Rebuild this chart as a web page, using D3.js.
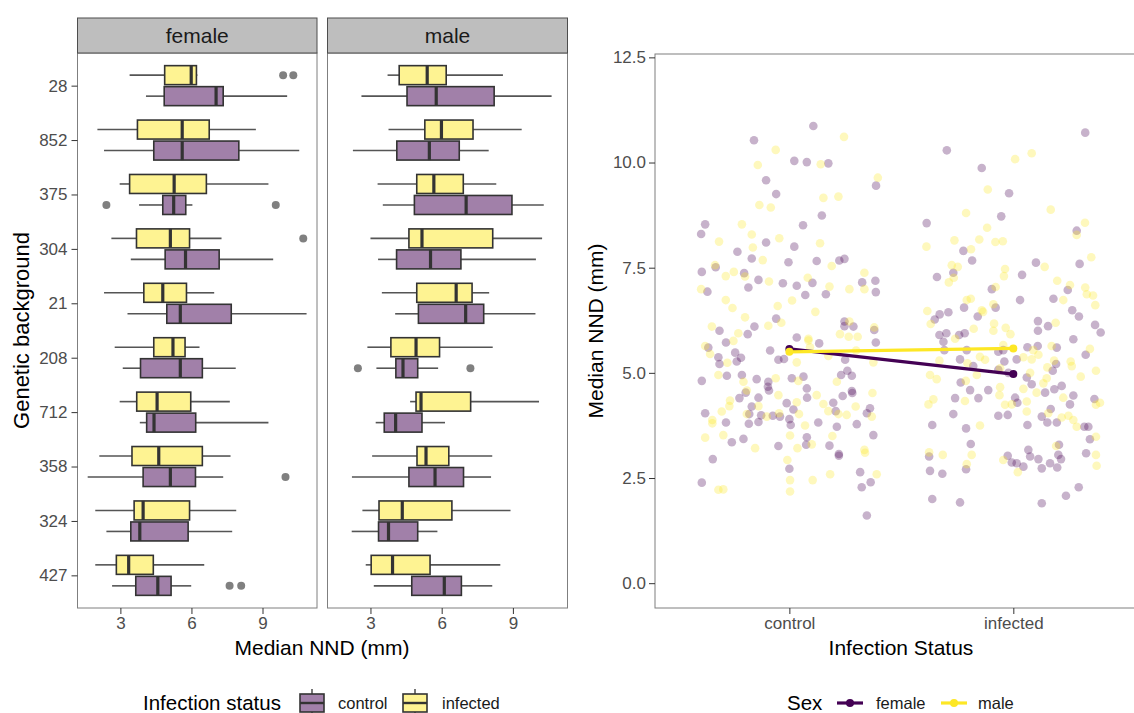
<!DOCTYPE html>
<html>
<head>
<meta charset="utf-8">
<script src="https://cdn.jsdelivr.net/npm/d3@7"></script>
<style>
  body { margin: 0; background: #fff; }
  svg { display: block; }
  text { font-family: "Liberation Sans", Arial, sans-serif; }
</style>
</head>
<body>
<div id="chart"></div>
<script>
const genotypes = ["28", "852", "375", "304", "21", "208", "712", "358", "324", "427"];
const sexes = ["female", "male"];
const statuses = ["control", "infected"];

// [lower whisker, Q1, median, Q3, upper whisker], one row per genotype
const femaleControl = [
  [4.08, 4.85, 7.04, 7.34, 10.04], [2.31, 4.41, 5.61, 8.00, 10.55], [3.79, 4.79, 5.25, 5.76, 6.04],
  [3.44, 4.89, 5.75, 7.17, 9.45], [3.30, 4.96, 5.53, 7.68, 10.86], [3.10, 3.85, 5.53, 6.46, 7.87],
  [3.82, 4.11, 4.42, 6.18, 9.25], [1.62, 3.96, 5.11, 6.17, 7.34], [2.41, 3.44, 3.82, 5.86, 7.72],
  [2.65, 3.65, 4.58, 5.14, 5.99]
];
const femaleInfected = [
  [3.39, 4.87, 5.99, 6.21, 6.25], [2.03, 3.72, 5.61, 6.75, 8.72], [2.97, 3.39, 5.27, 6.63, 9.25],
  [2.62, 3.68, 5.11, 5.92, 7.27], [2.31, 3.99, 4.79, 5.79, 6.96], [2.76, 4.41, 5.22, 5.73, 6.34],
  [2.97, 3.69, 4.55, 5.97, 7.62], [2.11, 3.49, 4.62, 6.46, 7.65], [1.94, 3.58, 3.96, 5.92, 7.89],
  [1.94, 2.83, 3.35, 4.39, 6.54]
];
const maleControl = [
  [2.62, 4.54, 5.77, 8.21, 10.63], [2.26, 4.11, 5.48, 6.74, 7.98], [3.52, 4.85, 7.03, 8.96, 10.30],
  [3.32, 4.10, 5.53, 6.81, 9.97], [4.04, 5.02, 7.01, 7.77, 9.95], [3.25, 4.07, 4.37, 4.99, 5.85],
  [3.22, 3.58, 4.06, 5.17, 6.14], [2.22, 4.62, 5.72, 6.92, 8.08], [2.21, 3.34, 3.76, 4.99, 5.82],
  [3.14, 4.74, 6.11, 6.83, 8.13]
];
const maleInfected = [
  [3.72, 4.21, 5.39, 6.19, 8.58], [3.76, 5.29, 5.99, 7.32, 9.37], [3.30, 4.95, 5.67, 6.91, 8.30],
  [3.00, 4.62, 5.17, 8.15, 10.23], [3.48, 4.95, 6.61, 7.28, 8.00], [2.87, 3.86, 4.92, 5.91, 8.15],
  [4.67, 4.92, 5.13, 7.22, 10.10], [3.07, 4.96, 5.34, 6.30, 8.13], [2.66, 3.36, 4.34, 6.43, 8.90],
  [2.80, 3.03, 3.93, 5.51, 8.47]
];
// [sex, status, genotype, value]
const outliers = [
  ["female", "infected", "28", 9.87], ["female", "infected", "28", 10.30],
  ["female", "control", "375", 2.41], ["female", "control", "375", 9.56],
  ["female", "infected", "304", 10.72], ["female", "control", "358", 9.97],
  ["female", "control", "427", 7.61], ["female", "control", "427", 8.10],
  ["male", "control", "208", 2.47], ["male", "control", "208", 7.21]
];

// right panel: jittered points [x position (1 = control, 2 = infected), median NND]
const femalePoints = [
  [1.107,10.87],[0.842,10.53],[1.022,10.04],[1.078,10.01],[1.174,9.98],[1.387,9.45],[0.896,9.58],[0.941,9.25],
  [1.145,8.74],[0.606,8.30],[0.624,8.53],[1.061,8.51],[0.896,8.10],[1.022,8.00],[0.768,7.88],[0.832,7.72],
  [0.996,7.63],[1.122,7.66],[1.223,7.67],[1.246,7.71],[0.671,7.51],[0.609,7.40],[0.798,7.37],[0.862,7.21],
  [0.971,7.13],[1.033,7.07],[1.103,7.14],[0.817,7.03],[1.325,7.15],[1.384,7.19],[1.386,6.92],[0.634,6.93],
  [1.071,6.85],[1.163,6.87],[0.941,6.29],[0.844,6.10],[0.688,6.00],[0.814,5.92],[1.246,6.22],[1.246,6.11],
  [1.286,6.10],[1.379,6.02],[1.033,5.84],
  [2.321,10.71],[1.703,10.29],[1.859,9.87],[1.981,9.27],[1.946,8.72],[1.613,8.56],[2.283,8.38],[1.777,7.90],
  [1.816,7.67],[2.101,7.62],[2.296,7.59],[1.732,7.38],[2.039,7.33],[1.659,7.28],[2.243,6.97],[1.904,6.99],
  [2.179,6.76],[2.030,6.73],[1.921,6.55],[1.780,6.55],[1.841,6.34],[1.649,6.27],[1.671,6.39],[1.710,6.44],
  [2.263,6.49],[2.293,6.34],[2.110,6.23],[2.155,6.11],[2.110,6.00],[2.365,6.14],[2.390,5.96],[1.670,5.90],
  [1.701,5.94],[1.758,5.90],[1.783,5.94],
  [0.638,5.60],[0.717,5.72],[0.758,5.48],[0.784,5.36],[0.683,5.37],[0.688,5.21],[0.765,5.27],[0.914,5.53],
  [0.951,5.31],[0.976,5.33],[1.133,5.70],[1.249,5.31],[1.386,5.72],[0.609,4.81],[0.721,4.93],[0.788,4.95],
  [0.854,4.85],[0.906,4.79],[0.904,4.67],[0.909,4.58],[1.011,4.87],[1.063,4.91],[1.078,4.63],[1.079,4.41],
  [1.231,4.95],[1.259,5.05],[1.279,4.93],[1.279,4.57],[1.281,4.52],[1.238,4.45],[0.805,4.53],[0.777,4.40],
  [0.862,4.41],[0.624,4.04],[0.717,3.82],[0.832,4.20],[0.821,4.02],[0.874,3.99],[0.819,3.79],[0.926,3.98],
  [0.958,3.96],[0.862,3.83],[0.988,4.28],[1.018,4.13],[1.000,3.90],[1.006,3.76],[1.129,3.82],[1.196,4.29],
  [1.207,4.09],[1.212,3.72],[1.301,3.78],[1.346,4.04],[1.360,4.16],
  [1.688,5.74],[1.692,5.54],[1.792,5.54],[1.933,5.50],[1.955,5.54],[2.063,5.61],[2.109,5.64],[2.194,5.60],
  [2.323,5.43],[2.015,5.32],[1.960,5.27],[1.762,5.32],[1.821,5.16],[1.933,5.07],[1.978,5.00],[1.765,4.77],
  [2.060,4.89],[2.082,4.73],[2.191,5.21],[2.176,5.05],[2.268,5.80],[2.216,4.69],[2.183,4.61],[1.807,4.59],
  [1.888,4.59],[2.142,4.53],[2.268,4.46],[1.740,4.40],[1.844,4.40],[2.008,4.41],[2.018,4.29],[2.167,4.14],
  [2.253,4.25],[2.362,4.38],[1.732,4.02],[1.933,3.98],[1.975,4.00],[2.127,3.96],[2.194,3.82],[2.152,3.82],
  [2.317,3.72],[2.335,3.72],[1.638,3.76],[1.789,3.68],[2.063,3.76],
  [0.743,3.35],[0.795,3.43],[0.951,3.26],[1.078,3.47],[1.075,3.29],[1.179,3.27],[1.221,3.07],[1.221,3.03],
  [0.658,2.95],[1.000,2.72],[1.316,2.64],[1.323,2.28],[1.363,2.40],[1.346,1.61],[0.609,2.39],
  [1.375,3.52],[1.624,3.01],[1.628,2.67],[1.683,2.60],[1.638,2.00],[1.762,1.92],[1.789,2.71],[1.810,3.31],
  [1.975,3.03],[1.993,2.87],[2.015,2.85],[2.045,2.77],[2.075,3.01],[2.067,3.17],[2.112,2.95],[2.127,2.73],
  [2.164,2.85],[2.196,2.75],[2.201,3.05],[2.213,2.95],[2.204,3.29],[2.127,1.90],[2.235,2.08],[2.292,2.28],
  [2.325,3.09],[2.342,3.42]
];
const malePoints = [
  [0.939,10.30],[1.244,10.61],[0.859,9.94],[1.140,9.96],[1.395,9.64],[1.152,9.16],[1.219,9.19],[0.866,8.99],
  [0.917,8.93],[0.788,8.53],[0.832,8.29],[0.686,8.12],[0.955,8.20],[0.837,7.98],[1.137,8.08],[0.881,7.68],
  [0.668,7.56],[0.716,7.30],[0.752,7.40],[0.802,7.29],[1.189,7.54],[1.335,7.38],[1.082,7.26],[0.909,7.17],
  [1.179,7.05],[1.268,6.99],[1.335,6.99],[0.606,6.99],[0.716,6.73],[0.746,6.54],[1.012,6.72],[0.948,6.59],
  [1.116,6.45],[0.802,6.32],[0.964,6.19],[0.906,6.12],[0.654,6.10],[0.772,5.94],[1.268,6.22],[1.226,5.92],
  [1.265,5.86],[1.305,5.86],[1.379,6.08],[1.085,5.81],
  [2.082,10.22],[2.008,10.08],[1.886,9.36],[2.167,8.88],[1.789,8.80],[2.320,8.57],[1.883,8.45],[2.283,8.28],
  [1.737,8.15],[1.848,8.17],[1.920,8.11],[1.953,8.13],[1.612,8.00],[1.811,7.94],[2.140,7.52],[2.348,7.75],
  [1.725,7.56],[1.752,7.52],[1.963,7.47],[1.958,7.30],[1.734,7.26],[1.712,7.15],[2.196,7.19],[2.253,7.09],
  [2.321,7.03],[2.328,6.87],[2.356,6.84],[1.921,7.04],[2.223,6.73],[2.366,6.61],[1.792,6.73],[1.810,6.76],
  [1.911,6.63],[1.859,6.49],[1.865,6.45],[1.616,6.47],[1.631,6.16],[2.189,6.19],[1.914,6.17],[1.966,6.07],
  [1.987,5.92],[1.911,6.00],[1.823,6.05],
  [0.624,5.64],[0.750,5.76],[0.646,5.45],[0.723,5.24],[1.033,5.25],[1.085,5.77],[1.092,5.61],[1.174,5.40],
  [1.298,5.53],[1.375,5.25],[0.683,4.95],[0.795,4.79],[0.939,4.87],[1.040,4.81],[1.122,4.47],[1.212,4.79],
  [1.371,4.52],[0.810,4.58],[0.735,4.34],[0.732,4.21],[0.698,4.08],[0.656,3.88],[0.656,3.80],[0.810,4.02],
  [0.862,4.21],[0.899,3.96],[0.954,4.04],[0.951,4.47],[1.033,4.30],[1.043,4.02],[1.070,3.75],[1.152,4.26],
  [1.174,4.09],[1.219,4.02],[1.256,4.00],[1.296,4.20],[1.368,3.96],
  [1.740,5.81],[1.955,5.66],[2.089,5.54],[2.171,5.64],[2.342,5.57],[2.045,5.37],[2.082,5.32],[2.112,5.43],
  [1.851,5.38],[1.874,5.31],[1.670,5.29],[1.795,5.23],[1.941,5.11],[1.628,4.95],[1.658,4.85],[1.837,4.95],
  [1.788,4.81],[2.075,5.00],[2.152,5.13],[2.182,5.29],[2.149,4.87],[2.134,4.75],[2.261,5.16],[2.256,5.27],
  [2.301,4.91],[2.369,5.05],[2.045,4.62],[1.941,4.66],[1.938,4.47],[2.104,4.53],[2.223,4.41],[1.784,4.33],
  [1.643,4.37],[1.621,4.25],[1.963,4.24],[1.993,4.25],[2.060,4.32],[2.060,4.08],[2.387,4.29],[2.369,4.24],
  [2.156,4.04],[2.216,3.94],[2.246,3.98],[2.268,3.88],[1.851,3.75],[2.283,3.72],
  [0.705,3.52],[0.624,3.46],[0.847,3.21],[1.100,3.30],[1.192,3.50],[1.036,3.21],[1.003,3.51],[0.991,2.93],
  [1.003,2.45],[1.003,2.18],[1.104,2.45],[1.182,2.59],[0.683,2.22],[0.705,2.23],[1.335,3.17],[1.338,3.10],
  [1.390,2.59],
  [1.624,3.11],[1.685,3.05],[1.792,2.83],[1.814,3.05],[1.955,2.93],[2.020,2.64],[2.191,3.26],[2.369,3.05],
  [2.372,2.79],[2.369,3.48]
];
// group means per infection status (control, infected)
const femaleMeans = [5.57, 4.97];
const maleMeans = [5.50, 5.58];

const xTicksLeft = [3, 6, 9];
const yTicksRight = [0, 2.5, 5, 7.5, 10, 12.5];

const W = 1134, H = 713;
const purple = "#440154", yellow = "#FDE725";
const tickCol = "#4d4d4d";

const svg = d3.select("#chart").append("svg")
  .attr("width", W).attr("height", H);

// ---------- left: boxplots faceted by sex ----------
const panelTop = 53, panelBottom = 608, stripTop = 18;
const y = d3.scalePoint().domain(genotypes).range([panelTop, panelBottom]).padding(0.6);
const boxH = 19, dodge = 10.5;

const stats = {
  female: { control: femaleControl, infected: femaleInfected },
  male: { control: maleControl, infected: maleInfected }
};
const panels = { female: [77.5, 317], male: [327.5, 567.5] };

function styleAxis(g) {
  g.select(".domain").remove();
  g.selectAll(".tick line").attr("stroke", "#333").attr("stroke-width", 1);
  g.selectAll(".tick text").attr("fill", tickCol).attr("font-size", 17)
    .attr("font-family", '"Liberation Sans", Arial, sans-serif');
}

sexes.forEach(sex => {
  const [x0, x1] = panels[sex];
  const x = d3.scaleLinear().domain([1.19, 11.3]).range([x0, x1]);
  const g = svg.append("g");

  g.append("rect").attr("x", x0).attr("y", panelTop).attr("width", x1 - x0)
    .attr("height", panelBottom - panelTop).attr("fill", "#fff");

  statuses.slice().reverse().forEach(status => {
    const off = status === "infected" ? -dodge : dodge;
    const fill = status === "infected" ? yellow : purple;
    stats[sex][status].forEach((s, i) => {
      const cy = y(genotypes[i]) + off;
      const [lo, q1, med, q3, hi] = s;
      g.append("line").attr("x1", x(lo)).attr("x2", x(q1)).attr("y1", cy).attr("y2", cy)
        .attr("stroke", "#555").attr("stroke-width", 1.6);
      g.append("line").attr("x1", x(q3)).attr("x2", x(hi)).attr("y1", cy).attr("y2", cy)
        .attr("stroke", "#555").attr("stroke-width", 1.6);
      g.append("rect").attr("x", x(q1)).attr("y", cy - boxH / 2)
        .attr("width", x(q3) - x(q1)).attr("height", boxH)
        .attr("fill", "#fff");
      g.append("rect").attr("x", x(q1)).attr("y", cy - boxH / 2)
        .attr("width", x(q3) - x(q1)).attr("height", boxH)
        .attr("fill", fill).attr("fill-opacity", 0.5)
        .attr("stroke", "#333").attr("stroke-width", 1.6);
      g.append("line").attr("x1", x(med)).attr("x2", x(med))
        .attr("y1", cy - boxH / 2).attr("y2", cy + boxH / 2)
        .attr("stroke", "#333").attr("stroke-width", 3.2);
    });
  });

  g.selectAll("circle.out")
    .data(outliers.filter(o => o[0] === sex))
    .join("circle")
    .attr("cx", d => x(d[3]))
    .attr("cy", d => y(d[2]) + (d[1] === "infected" ? -dodge : dodge))
    .attr("r", 4).attr("fill", "#808080");

  g.append("rect").attr("x", x0).attr("y", panelTop).attr("width", x1 - x0)
    .attr("height", panelBottom - panelTop).attr("fill", "none")
    .attr("stroke", "#7f7f7f").attr("stroke-width", 1);

  // strip
  g.append("rect").attr("x", x0).attr("y", stripTop).attr("width", x1 - x0)
    .attr("height", panelTop - stripTop).attr("fill", "#bebebe")
    .attr("stroke", "#4d4d4d").attr("stroke-width", 1);
  g.append("text").attr("x", (x0 + x1) / 2).attr("y", (stripTop + panelTop) / 2 + 7)
    .attr("text-anchor", "middle").attr("font-size", 21).attr("fill", "#1a1a1a").text(sex);

  g.append("g").attr("transform", `translate(0,${panelBottom})`)
    .call(d3.axisBottom(x).tickValues(xTicksLeft).tickSize(6).tickPadding(3))
    .call(styleAxis);

  if (sex === "female") {
    g.append("g").attr("transform", `translate(${x0},0)`)
      .call(d3.axisLeft(y).tickSize(6).tickPadding(4))
      .call(styleAxis);
  }
});

svg.append("text").attr("x", 322).attr("y", 655).attr("text-anchor", "middle")
  .attr("font-size", 21).text("Median NND (mm)");
svg.append("text").attr("transform", `translate(29,${(panelTop + panelBottom) / 2}) rotate(-90)`)
  .attr("text-anchor", "middle").attr("font-size", 22).text("Genetic background");

// ---------- right: points by infection status ----------
const rx0 = 655, rx1 = 1147.7, ry0 = 54, ry1 = 608;
const xr = d3.scaleLinear().domain([0.4, 2.6]).range([rx0, rx1]);
const yr = d3.scaleLinear().domain([-0.59, 12.58]).range([ry1, ry0]);
const rg = svg.append("g");

rg.selectAll("circle.f").data(femalePoints).join("circle")
  .attr("cx", d => xr(d[0])).attr("cy", d => yr(d[1])).attr("r", 4.3)
  .attr("fill", purple).attr("fill-opacity", 0.3);
rg.selectAll("circle.m").data(malePoints).join("circle")
  .attr("cx", d => xr(d[0])).attr("cy", d => yr(d[1])).attr("r", 4.3)
  .attr("fill", yellow).attr("fill-opacity", 0.3);

const meanLine = d3.line().x((d, i) => xr(i + 1)).y(d => yr(d));
[[femaleMeans, purple], [maleMeans, yellow]].forEach(([m, c]) => {
  rg.append("path").attr("d", meanLine(m)).attr("fill", "none")
    .attr("stroke", c).attr("stroke-width", 3.2);
  rg.selectAll(null).data(m).join("circle")
    .attr("cx", (d, i) => xr(i + 1)).attr("cy", d => yr(d)).attr("r", 4).attr("fill", c);
});

rg.append("rect").attr("x", rx0).attr("y", ry0).attr("width", rx1 - rx0)
  .attr("height", ry1 - ry0).attr("fill", "none").attr("stroke", "#7f7f7f").attr("stroke-width", 1);

rg.append("g").attr("transform", `translate(${rx0},0)`)
  .call(d3.axisLeft(yr).tickValues(yTicksRight).tickFormat(d3.format(".1f")).tickSize(6).tickPadding(3))
  .call(styleAxis);
rg.append("g").attr("transform", `translate(0,${ry1})`)
  .call(d3.axisBottom(xr).tickValues([1, 2]).tickFormat((d, i) => statuses[i]).tickSize(6).tickPadding(3))
  .call(styleAxis);

svg.append("text").attr("x", 901).attr("y", 655).attr("text-anchor", "middle")
  .attr("font-size", 21).text("Infection Status");
svg.append("text").attr("transform", `translate(603,${(ry0 + ry1) / 2}) rotate(-90)`)
  .attr("text-anchor", "middle").attr("font-size", 21).text("Median NND (mm)");

// ---------- legends ----------
const ly = 703;
const lg = svg.append("g");
lg.append("text").attr("x", 143).attr("y", ly + 7).attr("font-size", 20.5).text("Infection status");
[[300, purple, "control", 338], [403, yellow, "infected", 442]].forEach(([kx, c, label, tx]) => {
  lg.append("line").attr("x1", kx + 12).attr("x2", kx + 12).attr("y1", ly - 14).attr("y2", ly + 14)
    .attr("stroke", "#555").attr("stroke-width", 1.6);
  lg.append("rect").attr("x", kx).attr("y", ly - 9).attr("width", 24).attr("height", 18).attr("fill", "#fff");
  lg.append("rect").attr("x", kx).attr("y", ly - 9).attr("width", 24).attr("height", 18)
    .attr("fill", c).attr("fill-opacity", 0.5).attr("stroke", "#333").attr("stroke-width", 1.6);
  lg.append("line").attr("x1", kx).attr("x2", kx + 24).attr("y1", ly).attr("y2", ly)
    .attr("stroke", "#333").attr("stroke-width", 2.4);
  lg.append("text").attr("x", tx).attr("y", ly + 6).attr("font-size", 16.5).attr("fill", "#1a1a1a").text(label);
});

lg.append("text").attr("x", 787).attr("y", ly + 7).attr("font-size", 20.5).text("Sex");
[[837, purple, "female", 876], [941, yellow, "male", 978]].forEach(([kx, c, label, tx]) => {
  lg.append("line").attr("x1", kx).attr("x2", kx + 26).attr("y1", ly).attr("y2", ly)
    .attr("stroke", c).attr("stroke-width", 3.2);
  lg.append("circle").attr("cx", kx + 13).attr("cy", ly).attr("r", 4).attr("fill", c);
  lg.append("text").attr("x", tx).attr("y", ly + 6).attr("font-size", 16.5).attr("fill", "#1a1a1a").text(label);
});
</script>
</body>
</html>
